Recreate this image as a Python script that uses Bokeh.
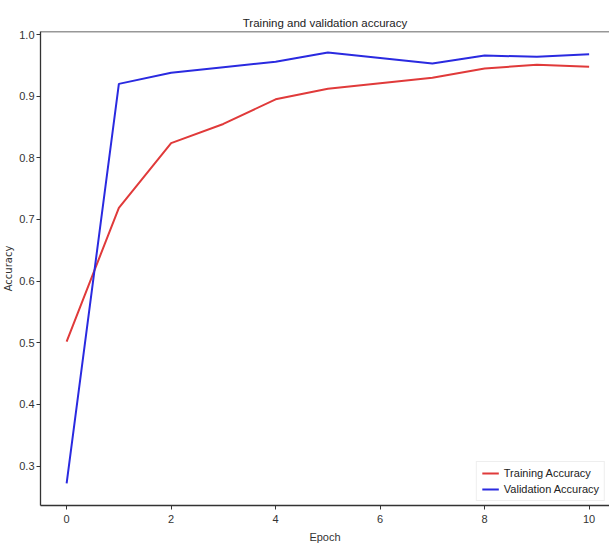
from bokeh.plotting import figure
from bokeh.models import Range1d, Span, Legend, LegendItem, FixedTicker
from bokeh.embed import file_html
from bokeh.resources import INLINE

# Per-epoch accuracy history
epochs = [0, 1, 2, 3, 4, 5, 6, 7, 8, 9, 10]
train_acc = [0.502, 0.719, 0.824, 0.855, 0.895, 0.912, 0.921, 0.930, 0.945, 0.951, 0.948]
val_acc = [0.272, 0.920, 0.938, 0.947, 0.956, 0.971, 0.962, 0.953, 0.966, 0.964, 0.968]

x_ticks = [0, 2, 4, 6, 8, 10]
y_ticks = [0.3, 0.4, 0.5, 0.6, 0.7, 0.8, 0.9, 1.0]

FONT = "Liberation Sans"
y_top = 1.005

p = figure(
    width=609, height=545,
    output_backend="svg", toolbar_location=None,
    x_range=Range1d(-0.5, 10.39), y_range=Range1d(0.236, y_top),
    min_border_left=38, min_border_right=0, min_border_top=31, min_border_bottom=39,
    title="Training and validation accuracy",
)
p.background_fill_color = "white"
p.border_fill_color = "white"
p.outline_line_color = None
p.grid.visible = False

p.title.align = "center"
p.title.text_font = FONT
p.title.text_font_size = "11.5px"
p.title.text_font_style = "normal"
p.title.text_color = "#222222"
p.title.standoff = 5

# Top spine of the frame
p.add_layout(Span(location=y_top, dimension="width", line_color="#333333", line_width=1.3))

for ax in (p.xaxis[0], p.yaxis[0]):
    ax.axis_line_color = "#333333"
    ax.axis_line_width = 1.3
    ax.major_tick_line_color = "#333333"
    ax.major_tick_out = 4
    ax.major_tick_in = 0
    ax.minor_tick_line_color = None
    ax.major_label_text_font = FONT
    ax.major_label_text_font_size = "11px"
    ax.major_label_text_color = "#333333"
    ax.axis_label_text_font_style = "normal"
    ax.axis_label_text_color = "#333333"

p.xaxis.ticker = FixedTicker(ticks=x_ticks)
p.yaxis.ticker = FixedTicker(ticks=y_ticks)
p.yaxis.major_label_overrides = {t: f"{t:.1f}" for t in y_ticks}
p.xaxis.major_label_standoff = 5
p.yaxis.major_label_standoff = 2

p.xaxis.axis_label = "Epoch"
p.xaxis.axis_label_text_font = FONT
p.xaxis.axis_label_text_font_size = "11px"
p.xaxis.axis_label_standoff = 5

p.yaxis.axis_label = "Accuracy"
p.yaxis.axis_label_text_font = "DejaVu Sans"
p.yaxis.axis_label_text_font_size = "10px"
p.yaxis.axis_label_standoff = 2

r_train = p.line(epochs, train_acc, line_color="#e03a3a", line_width=2)
r_val = p.line(epochs, val_acc, line_color="#2a2ae0", line_width=2)

legend = Legend(items=[
    LegendItem(label="Training Accuracy", renderers=[r_train]),
    LegendItem(label="Validation Accuracy", renderers=[r_val]),
])
legend.location = "bottom_right"
legend.label_text_font = FONT
legend.label_text_font_size = "11px"
legend.label_text_color = "#222222"
legend.glyph_width = 17
legend.glyph_height = 12
legend.label_standoff = 5
legend.spacing = 4
legend.padding = 5
legend.margin = 4
legend.border_line_color = "#dddddd"
legend.background_fill_alpha = 0.85
p.add_layout(legend)

open("out.html", "w").write(file_html(p, INLINE))
